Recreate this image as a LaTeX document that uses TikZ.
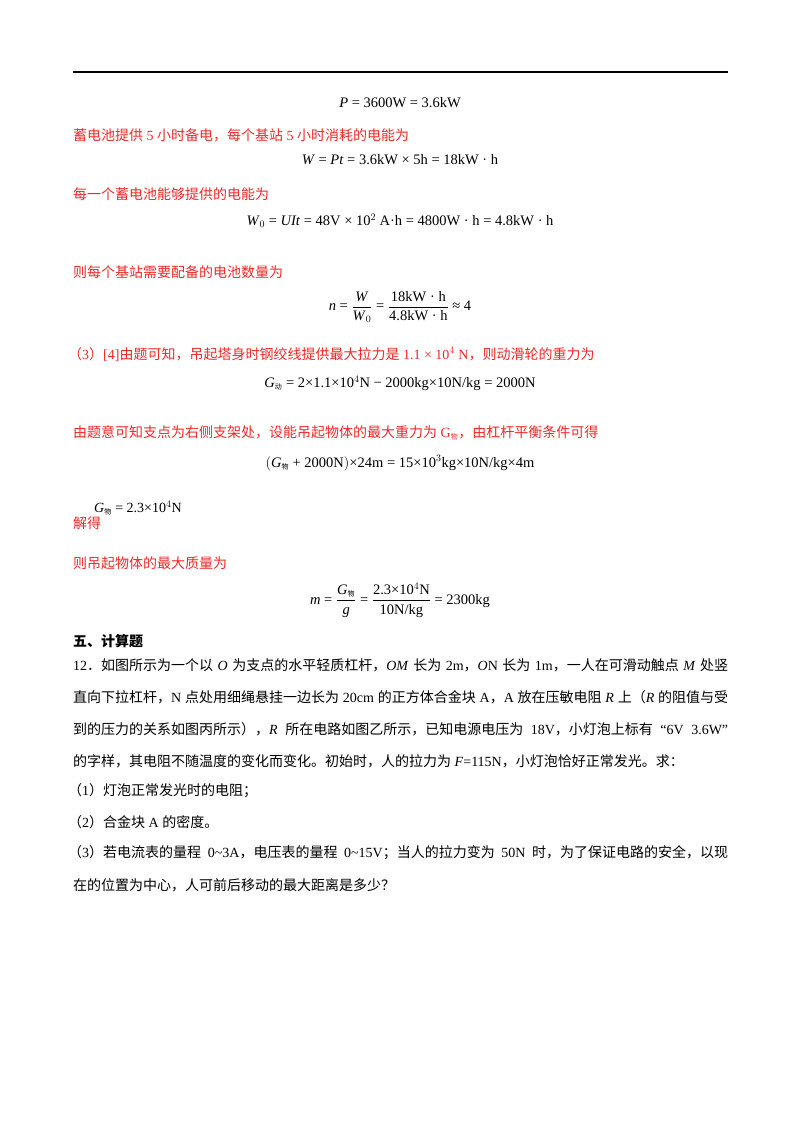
\documentclass[tikz,border=0pt]{standalone}
\usepackage{fontspec}
\setmainfont{Liberation Serif}
\newfontfamily\cjk{Noto Sans CJK SC}
\definecolor{ans}{RGB}{240,40,40}
\newcommand{\cs}[1]{{\cjk #1}}
\newcommand{\sub}[1]{$_{\mbox{\cjk\fontsize{7}{8}\selectfont #1}}$}
\newcommand{\fl}[1]{\hbox to 655pt{#1}}
\begin{document}
\begin{tikzpicture}[x=1pt,y=-1pt,
  txt/.style={anchor=west,inner sep=0pt,font=\fontsize{14}{16}\selectfont},
  red/.style={txt,text=ans},
  eq/.style={inner sep=0pt,font=\fontsize{14.5}{16}\selectfont}]
\useasboundingbox (0,0) rectangle (800,1132);
\draw[line width=1.2pt] (73,72) coordinate (l1) -- (728,72) coordinate (l2);
\node[eq] (e1) at (400,103) {\textit{P} = 3600W = 3.6kW};
\node[red] (r1) at (73,135) {\cs{蓄电池提供} 5 \cs{小时备电，每个基站} 5 \cs{小时消耗的电能为}};
\node[eq] (e2) at (400,160) {\textit{W} = \textit{Pt} = 3.6kW × 5h = 18kW · h};
\node[red] (r2) at (73,194) {\cs{每一个蓄电池能够提供的电能为}};
\node[eq] (e3) at (400,221) {\textit{W}$_0$ = \textit{UIt} = 48V × 10$^2$ A·h = 4800W · h = 4.8kW · h};
\node[red] (r3) at (73,272) {\cs{则每个基站需要配备的电池数量为}};
\node[eq] (e4) at (400,307) {\textit{n} = $\displaystyle\frac{\mbox{\textit{W}}}{\mbox{\textit{W}$_0$}}$ = $\displaystyle\frac{\mbox{18kW · h}}{\mbox{4.8kW · h}}$ ≈ 4};
\node[red] (r4) at (68,354) {\cs{（}3\cs{）}[4]\cs{由题可知，吊起塔身时钢绞线提供最大拉力是} 1.1 × 10$^4$ N\cs{，则动滑轮的重力为}};
\node[eq] (e5) at (400,383) {\textit{G}\sub{动} = 2×1.1×10$^4$N − 2000kg×10N/kg = 2000N};
\node[red] (r5) at (73,433) {\cs{由题意可知支点为右侧支架处，设能吊起物体的最大重力为} G\sub{物}\cs{，由杠杆平衡条件可得}};
\node[eq] (e6) at (400,463) {$\bigl($\textit{G}\sub{物} + 2000N$\bigr)$×24m = 15×10$^3$kg×10N/kg×4m};
\node[red] (r6) at (73,523) {\cs{解得}};
\node[txt] (e7) at (94,508) {\textit{G}\sub{物} = 2.3×10$^4$N};
\node[red] (r7) at (73,563) {\cs{则吊起物体的最大质量为}};
\node[eq] (e8) at (400,600) {\textit{m} = $\displaystyle\frac{\mbox{\textit{G}\sub{物}}}{\mbox{\textit{g}}}$ = $\displaystyle\frac{\mbox{2.3×10$^4$N}}{\mbox{10N/kg}}$ = 2300kg};
\node[txt,font=\fontsize{14}{16}\selectfont\cjk\bfseries] (h) at (73,641) {五、计算题};
\node[txt] (p1) at (73,665) {\fl{12\cs{．如图所示为一个以} \textit{O} \cs{为支点的水平轻质杠杆，}\textit{OM} \cs{长为} 2m\cs{，}\textit{O}N \cs{长为} 1m\cs{，一人在可滑动触点} \textit{M} \cs{处竖}}};
\node[txt] (p2) at (73,697) {\fl{\cs{直向下拉杠杆，}N \cs{点处用细绳悬挂一边长为} 20cm \cs{的正方体合金块} A\cs{，}A \cs{放在压敏电阻} \textit{R} \cs{上（}\textit{R} \cs{的阻值与受}}};
\node[txt] (p3) at (73,729) {\fl{\cs{到的压力的关系如图丙所示），}\textit{R} \cs{所在电路如图乙所示，已知电源电压为} 18V\cs{，小灯泡上标有} “6V 3.6W”}};
\node[txt] (p4) at (73,761) {\cs{的字样，其电阻不随温度的变化而变化。初始时，人的拉力为} \textit{F}=115N\cs{，小灯泡恰好正常发光。求：}};
\node[txt] (p5) at (68,791) {\cs{（}1\cs{）灯泡正常发光时的电阻；}};
\node[txt] (p6) at (68,822) {\cs{（}2\cs{）合金块} A \cs{的密度。}};
\node[txt] (p7) at (68,853) {\hbox to 660pt{\cs{（}3\cs{）若电流表的量程} 0\textasciitilde3A\cs{，电压表的量程} 0\textasciitilde15V\cs{；当人的拉力变为} 50N \cs{时，为了保证电路的安全，以现}}};
\node[txt] (p8) at (73,885) {\cs{在的位置为中心，人可前后移动的最大距离是多少？}};
\end{tikzpicture}
\end{document}
